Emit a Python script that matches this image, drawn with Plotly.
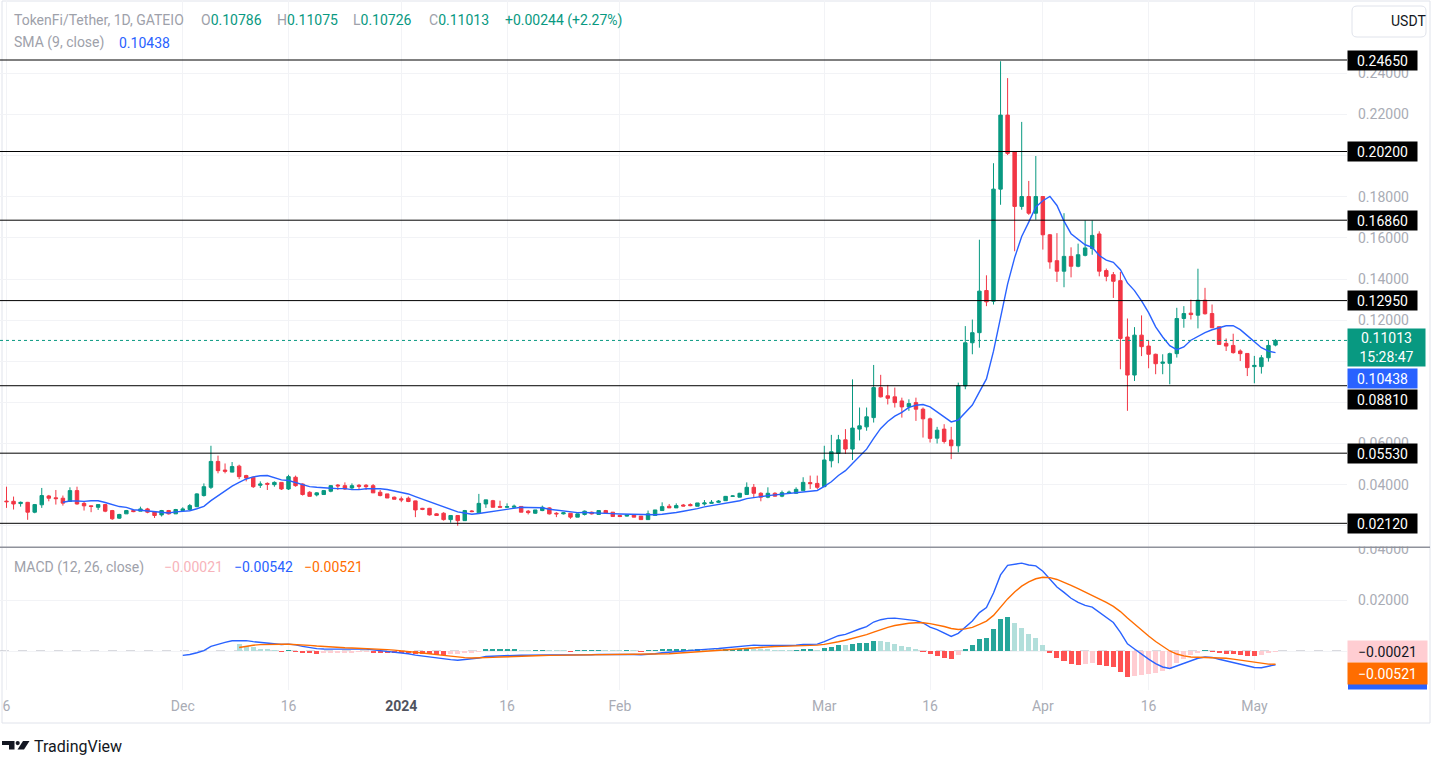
import numpy as np
import pandas as pd
import plotly.graph_objects as go

W, H = 1435, 757

# ---------------- data ----------------
start_date = "2023-11-06"

opens = [0.0320, 0.0319, 0.0308, 0.0314, 0.0266, 0.0302, 0.0345, 0.0336, 0.0334, 0.0318,
         0.0371, 0.0309, 0.0297, 0.0290, 0.0303, 0.0274, 0.0237, 0.0258, 0.0274, 0.0271,
         0.0282, 0.0267, 0.0253, 0.0274, 0.0258, 0.0274, 0.0279, 0.0293, 0.0347, 0.0387,
         0.0513, 0.0471, 0.0461, 0.0490, 0.0444, 0.0436, 0.0397, 0.0406, 0.0400, 0.0411,
         0.0379, 0.0436, 0.0403, 0.0363, 0.0350, 0.0352, 0.0368, 0.0398, 0.0395, 0.0384,
         0.0397, 0.0397, 0.0395, 0.0363, 0.0355, 0.0339, 0.0331, 0.0334, 0.0321, 0.0285,
         0.0285, 0.0258, 0.0261, 0.0230, 0.0250, 0.0225, 0.0272, 0.0263, 0.0306, 0.0322,
         0.0294, 0.0290, 0.0290, 0.0294, 0.0271, 0.0261, 0.0274, 0.0287, 0.0261, 0.0258,
         0.0261, 0.0242, 0.0255, 0.0266, 0.0255, 0.0274, 0.0266, 0.0250, 0.0247, 0.0253,
         0.0247, 0.0230, 0.0250, 0.0274, 0.0295, 0.0287, 0.0301, 0.0303, 0.0295, 0.0306,
         0.0309, 0.0314, 0.0322, 0.0343, 0.0339, 0.0352, 0.0387, 0.0358, 0.0339, 0.0358,
         0.0344, 0.0358, 0.0358, 0.0371, 0.0410, 0.0406, 0.0390, 0.0516, 0.0552, 0.0618,
         0.0573, 0.0670, 0.0681, 0.0726, 0.0872, 0.0832, 0.0827, 0.0807, 0.0778, 0.0799,
         0.0767, 0.0720, 0.0626, 0.0670, 0.0617, 0.0589, 0.0880, 0.1090, 0.1139, 0.1344,
         0.1292, 0.1837, 0.2197, 0.2019, 0.1753, 0.1801, 0.1720, 0.1801, 0.1615, 0.1489,
         0.1438, 0.1510, 0.1462, 0.1515, 0.1548, 0.1619, 0.1441, 0.1421, 0.1392, 0.1118,
         0.0933, 0.1127, 0.1074, 0.1034, 0.0990, 0.0990, 0.1037, 0.1208, 0.1234, 0.1224,
         0.1297, 0.1232, 0.1168, 0.1087, 0.1077, 0.1050, 0.1038, 0.0974, 0.0974, 0.1017,
         0.10786]
highs = [0.0390, 0.0342, 0.0318, 0.0316, 0.0306, 0.0384, 0.0350, 0.0374, 0.0347, 0.0387,
         0.0390, 0.0319, 0.0298, 0.0303, 0.0306, 0.0277, 0.0258, 0.0277, 0.0279, 0.0293,
         0.0287, 0.0267, 0.0277, 0.0277, 0.0282, 0.0290, 0.0306, 0.0358, 0.0406, 0.0589,
         0.0541, 0.0503, 0.0510, 0.0497, 0.0448, 0.0439, 0.0416, 0.0411, 0.0416, 0.0411,
         0.0448, 0.0444, 0.0406, 0.0368, 0.0363, 0.0374, 0.0398, 0.0403, 0.0411, 0.0406,
         0.0403, 0.0403, 0.0403, 0.0374, 0.0355, 0.0342, 0.0342, 0.0342, 0.0322, 0.0287,
         0.0287, 0.0261, 0.0266, 0.0250, 0.0250, 0.0277, 0.0276, 0.0355, 0.0326, 0.0326,
         0.0322, 0.0309, 0.0303, 0.0294, 0.0277, 0.0277, 0.0298, 0.0290, 0.0266, 0.0266,
         0.0261, 0.0258, 0.0274, 0.0269, 0.0274, 0.0277, 0.0266, 0.0253, 0.0253, 0.0253,
         0.0247, 0.0274, 0.0277, 0.0314, 0.0306, 0.0309, 0.0306, 0.0309, 0.0311, 0.0325,
         0.0325, 0.0325, 0.0345, 0.0348, 0.0360, 0.0411, 0.0403, 0.0363, 0.0387, 0.0363,
         0.0371, 0.0371, 0.0387, 0.0436, 0.0444, 0.0444, 0.0589, 0.0642, 0.0642, 0.0670,
         0.0912, 0.0775, 0.0775, 0.0982, 0.0934, 0.0885, 0.0872, 0.0823, 0.0815, 0.0823,
         0.0775, 0.0726, 0.0681, 0.0694, 0.0681, 0.0896, 0.1171, 0.1203, 0.1591, 0.1418,
         0.1963, 0.2459, 0.2377, 0.2019, 0.2164, 0.1877, 0.1998, 0.1801, 0.1619, 0.1623,
         0.1720, 0.1554, 0.1572, 0.1685, 0.1685, 0.1632, 0.1451, 0.1434, 0.1434, 0.1208,
         0.1166, 0.1223, 0.1101, 0.1037, 0.1034, 0.1042, 0.1260, 0.1268, 0.1300, 0.1450,
         0.1357, 0.1276, 0.1168, 0.1111, 0.1134, 0.1058, 0.1038, 0.1026, 0.1030, 0.1101,
         0.11075]
lows = [0.0287, 0.0279, 0.0293, 0.0229, 0.0261, 0.0287, 0.0319, 0.0303, 0.0298, 0.0316,
        0.0303, 0.0274, 0.0266, 0.0277, 0.0266, 0.0229, 0.0234, 0.0258, 0.0266, 0.0271,
        0.0261, 0.0238, 0.0245, 0.0255, 0.0258, 0.0271, 0.0274, 0.0290, 0.0342, 0.0379,
        0.0455, 0.0455, 0.0460, 0.0427, 0.0416, 0.0384, 0.0384, 0.0374, 0.0390, 0.0374,
        0.0374, 0.0390, 0.0347, 0.0343, 0.0343, 0.0352, 0.0363, 0.0374, 0.0374, 0.0379,
        0.0374, 0.0374, 0.0360, 0.0343, 0.0335, 0.0329, 0.0315, 0.0315, 0.0242, 0.0276,
        0.0250, 0.0250, 0.0225, 0.0215, 0.0200, 0.0225, 0.0266, 0.0263, 0.0287, 0.0290,
        0.0290, 0.0287, 0.0290, 0.0266, 0.0255, 0.0258, 0.0271, 0.0255, 0.0242, 0.0255,
        0.0234, 0.0242, 0.0250, 0.0255, 0.0255, 0.0258, 0.0245, 0.0242, 0.0245, 0.0242,
        0.0230, 0.0230, 0.0250, 0.0274, 0.0287, 0.0287, 0.0295, 0.0295, 0.0295, 0.0298,
        0.0309, 0.0311, 0.0322, 0.0340, 0.0339, 0.0352, 0.0339, 0.0319, 0.0334, 0.0342,
        0.0339, 0.0355, 0.0355, 0.0371, 0.0379, 0.0379, 0.0390, 0.0484, 0.0504, 0.0549,
        0.0520, 0.0615, 0.0662, 0.0702, 0.0824, 0.0790, 0.0775, 0.0726, 0.0759, 0.0710,
        0.0629, 0.0605, 0.0600, 0.0600, 0.0524, 0.0557, 0.0864, 0.1034, 0.1066, 0.1268,
        0.1276, 0.1761, 0.2003, 0.1535, 0.1737, 0.1712, 0.1688, 0.1543, 0.1450, 0.1386,
        0.1360, 0.1408, 0.1457, 0.1510, 0.1518, 0.1413, 0.1389, 0.1308, 0.0961, 0.0759,
        0.0904, 0.1025, 0.0966, 0.0937, 0.0937, 0.0888, 0.1018, 0.1163, 0.1203, 0.1160,
        0.1227, 0.1163, 0.1082, 0.1050, 0.1037, 0.1001, 0.0928, 0.0893, 0.0940, 0.0998,
        0.10726]
closes = [0.0317, 0.0306, 0.0314, 0.0266, 0.0303, 0.0347, 0.0334, 0.0332, 0.0310, 0.0371,
          0.0306, 0.0297, 0.0294, 0.0303, 0.0271, 0.0234, 0.0255, 0.0274, 0.0269, 0.0282,
          0.0266, 0.0250, 0.0274, 0.0258, 0.0279, 0.0282, 0.0298, 0.0355, 0.0390, 0.0513,
          0.0468, 0.0465, 0.0488, 0.0439, 0.0432, 0.0390, 0.0403, 0.0402, 0.0411, 0.0379,
          0.0439, 0.0395, 0.0352, 0.0343, 0.0360, 0.0371, 0.0395, 0.0394, 0.0379, 0.0395,
          0.0392, 0.0390, 0.0360, 0.0347, 0.0335, 0.0329, 0.0326, 0.0318, 0.0277, 0.0280,
          0.0253, 0.0250, 0.0230, 0.0250, 0.0225, 0.0274, 0.0269, 0.0309, 0.0326, 0.0290,
          0.0290, 0.0293, 0.0295, 0.0266, 0.0264, 0.0277, 0.0290, 0.0258, 0.0258, 0.0263,
          0.0242, 0.0258, 0.0271, 0.0258, 0.0274, 0.0261, 0.0245, 0.0245, 0.0253, 0.0242,
          0.0230, 0.0258, 0.0277, 0.0293, 0.0287, 0.0298, 0.0296, 0.0298, 0.0311, 0.0311,
          0.0314, 0.0320, 0.0343, 0.0345, 0.0358, 0.0387, 0.0358, 0.0339, 0.0358, 0.0344,
          0.0361, 0.0363, 0.0377, 0.0411, 0.0405, 0.0387, 0.0520, 0.0560, 0.0618, 0.0573,
          0.0675, 0.0686, 0.0730, 0.0872, 0.0827, 0.0820, 0.0799, 0.0778, 0.0794, 0.0767,
          0.0720, 0.0625, 0.0665, 0.0610, 0.0589, 0.0880, 0.1090, 0.1139, 0.1341, 0.1289,
          0.1837, 0.2197, 0.2011, 0.1753, 0.1801, 0.1720, 0.1801, 0.1615, 0.1483, 0.1438,
          0.1510, 0.1462, 0.1518, 0.1551, 0.1612, 0.1438, 0.1413, 0.1389, 0.1111, 0.0933,
          0.1127, 0.1071, 0.1034, 0.0988, 0.0996, 0.1037, 0.1208, 0.1232, 0.1227, 0.1297,
          0.1231, 0.1163, 0.1082, 0.1074, 0.1042, 0.1037, 0.0969, 0.0980, 0.1017, 0.10769,
          0.11013]

levels = [0.24650, 0.20200, 0.16860, 0.12950, 0.08810, 0.05530, 0.02120]
price_ticks = [0.02, 0.04, 0.06, 0.08, 0.10, 0.12, 0.14, 0.16, 0.18, 0.20, 0.22, 0.24]
hidden_price_ticks = [0.02, 0.08, 0.10, 0.20]   # covered by the level / price boxes
macd_ticks = [0.0, 0.02, 0.04]
hidden_macd_ticks = [0.0]
time_tick_dates = ["2023-11-06", "2023-12-01", "2023-12-16", "2024-01-01", "2024-01-16",
                   "2024-02-01", "2024-03-01", "2024-03-16", "2024-04-01", "2024-04-16",
                   "2024-05-01"]
time_tick_text = ["6", "Dec", "16", "2024", "16", "Feb", "Mar", "16", "Apr", "16", "May"]

last_change = 0.00244
last_change_pct = 2.27
countdown = "15:28:47"
sma_last = 0.10438
macd_hist_last = -0.00021
macd_line_last = -0.00542
macd_signal_last = -0.00521

# ---------------- indicators ----------------
dates = pd.date_range(start_date, periods=len(closes), freq="D")
c = np.array(closes, dtype=float)


def ema_tv(src, n):
    src = np.asarray(src, dtype=float)
    out = np.full(src.shape, np.nan)
    idx = np.where(~np.isnan(src))[0]
    first = idx[0]
    s = first + n - 1
    out[s] = src[first:s + 1].mean()
    a = 2.0 / (n + 1)
    for k in range(s + 1, len(src)):
        out[k] = a * src[k] + (1 - a) * out[k - 1]
    return out


sma9 = pd.Series(c).rolling(9).mean().to_numpy()
macd = ema_tv(c, 12) - ema_tv(c, 26)
signal = ema_tv(macd, 9)
hist = macd - signal

hist_colors = []
for k in range(len(hist)):
    h = hist[k]
    prev = hist[k - 1] if k > 0 else np.nan
    if np.isnan(h):
        hist_colors.append("rgba(0,0,0,0)")
        continue
    rising = (not np.isnan(prev)) and prev < h
    if h >= 0:
        hist_colors.append("#26A69A" if rising else "#B2DFDB")
    else:
        hist_colors.append("#FFCDD2" if rising else "#FF5252")

# ---------------- geometry (pixels -> paper) ----------------
def X(px):
    return px / W


def Y(py):
    return 1 - py / H


PLOT_R = 1347
x0_day = (0 - 6.5) / 7.05
x1_day = (PLOT_R - 6.5) / 7.05
t0 = pd.Timestamp(start_date)
xr = [(t0 + pd.Timedelta(days=x0_day)).strftime("%Y-%m-%d %H:%M:%S"),
      (t0 + pd.Timedelta(days=x1_day)).strftime("%Y-%m-%d %H:%M:%S")]


def price_at(py):
    return 0.2465 + (60 - py) / 2056.4


def macd_at(py):
    return (651 - py) / 2550.0


PRICE_BOTTOM = 547
MACD_TOP, MACD_BOTTOM = 548, 690

UP, DOWN = "#089981", "#F23645"
GRID = "#f2f3f6"
AXT = "#a9acb5"
FONT = "Roboto"


def fmt_ticks(vals, hidden):
    return [("" if any(abs(v - h) < 1e-9 for h in hidden) else f"{v:.5f}") for v in vals]


fig = go.Figure()
fig.add_trace(go.Candlestick(
    x=dates, open=opens, high=highs, low=lows, close=closes,
    increasing=dict(line=dict(color=UP, width=1), fillcolor=UP),
    decreasing=dict(line=dict(color=DOWN, width=1), fillcolor=DOWN),
    whiskerwidth=0, xaxis="x", yaxis="y", hoverinfo="skip"))
fig.add_trace(go.Scatter(x=dates, y=sma9, mode="lines",
                         line=dict(color="#2962FF", width=1.4),
                         xaxis="x", yaxis="y", hoverinfo="skip"))
fig.add_trace(go.Bar(x=dates, y=hist, marker=dict(color=hist_colors, line=dict(width=0)),
                     width=0.72 * 86400000, xaxis="x2", yaxis="y2", hoverinfo="skip"))
fig.add_trace(go.Scatter(x=dates, y=macd, mode="lines", line=dict(color="#2962FF", width=1.4),
                         xaxis="x2", yaxis="y2", hoverinfo="skip"))
fig.add_trace(go.Scatter(x=dates, y=signal, mode="lines", line=dict(color="#FF6D00", width=1.4),
                         xaxis="x2", yaxis="y2", hoverinfo="skip"))

shapes = []
shapes.append(dict(type="rect", xref="paper", yref="paper", x0=X(2), x1=X(1430), y0=Y(723), y1=Y(1),
                   line=dict(color="#e0e3eb", width=1), fillcolor="rgba(0,0,0,0)", layer="below"))
for lv in levels:
    shapes.append(dict(type="line", xref="paper", yref="y", x0=0, x1=X(PLOT_R), y0=lv, y1=lv,
                       line=dict(color="#000000", width=1), layer="above"))
shapes.append(dict(type="line", xref="paper", yref="y", x0=0, x1=X(PLOT_R), y0=closes[-1], y1=closes[-1],
                   line=dict(color=UP, width=1, dash="dot"), layer="above"))
shapes.append(dict(type="line", xref="paper", yref="y2", x0=0, x1=X(PLOT_R), y0=0, y1=0,
                   line=dict(color="#b2b5be", width=1, dash="dash"), layer="below"))
shapes.append(dict(type="rect", xref="paper", yref="paper", x0=X(PLOT_R + 1), x1=X(1429), y0=Y(546.5), y1=Y(537),
                   line=dict(width=0), fillcolor="white", layer="above"))
shapes.append(dict(type="line", xref="paper", yref="paper", x0=0, x1=X(1430), y0=Y(547.3), y1=Y(547.3),
                   line=dict(color="#8f929b", width=1.5), layer="above"))
shapes.append(dict(type="rect", xref="paper", yref="paper", x0=X(1348), x1=X(1427), y0=Y(689.5), y1=Y(683.5),
                   line=dict(width=0), fillcolor="#2962FF", layer="above"))


def rrect(x0, y0, x1, y1, r):
    return (f"M {X(x0 + r)},{Y(y0)} L {X(x1 - r)},{Y(y0)} Q {X(x1)},{Y(y0)} {X(x1)},{Y(y0 + r)} "
            f"L {X(x1)},{Y(y1 - r)} Q {X(x1)},{Y(y1)} {X(x1 - r)},{Y(y1)} L {X(x0 + r)},{Y(y1)} "
            f"Q {X(x0)},{Y(y1)} {X(x0)},{Y(y1 - r)} L {X(x0)},{Y(y0 + r)} Q {X(x0)},{Y(y0)} {X(x0 + r)},{Y(y0)} Z")


shapes.append(dict(type="path", xref="paper", yref="paper", path=rrect(1352, 6, 1426, 37, 5),
                   line=dict(color="#e0e3eb", width=1), fillcolor="white", layer="above"))


def poly(pts):
    return "M " + " L ".join(f"{X(a)},{Y(b)}" for a, b in pts) + " Z"


shapes.append(dict(type="path", xref="paper", yref="paper",
                   path=poly([(2, 741), (14.5, 741), (14.5, 749.5), (9, 749.5), (9, 745), (2, 745)]),
                   line=dict(width=0), fillcolor="#131722", layer="above"))
shapes.append(dict(type="circle", xref="paper", yref="paper", x0=X(15.6), x1=X(19.8), y0=Y(745.2), y1=Y(741),
                   line=dict(width=0), fillcolor="#131722", layer="above"))
shapes.append(dict(type="path", xref="paper", yref="paper",
                   path=poly([(23, 741), (29.5, 741), (24, 749.5), (17.5, 749.5)]),
                   line=dict(width=0), fillcolor="#131722", layer="above"))

ann = []


def txt(x, y, text, color, size=14, xanchor="left", yanchor="middle"):
    ann.append(dict(x=X(x), y=Y(y), xref="paper", yref="paper", text=text, showarrow=False,
                    xanchor=xanchor, yanchor=yanchor, font=dict(family=FONT, size=size, color=color)))


LEG = "#9ea1aa"
txt(12, 20, "TokenFi/Tether, 1D, GATEIO", LEG)
ohlc_x = [199, 275, 351, 427]
for xx, lab, val in zip(ohlc_x, ["O", "H", "L", "C"], [opens[-1], highs[-1], lows[-1], closes[-1]]):
    txt(xx, 20, f"<span style='color:{LEG}'>{lab}</span>{val:.5f}", UP)
txt(503, 20, f"+{last_change:.5f} (+{last_change_pct:.2f}%)", UP)
txt(12, 43, "SMA (9, close)", LEG)
txt(117, 43, f"{sma_last:.5f}", "#2962FF")
txt(12, 567, "MACD (12, 26, close)", LEG)
txt(162, 567, f"\u2212{abs(macd_hist_last):.5f}", "#f7b3ba")
txt(232, 567, f"\u2212{abs(macd_line_last):.5f}", "#2962FF")
txt(302, 567, f"\u2212{abs(macd_signal_last):.5f}", "#FF6D00")
txt(1389, 21, "USDT", "#131722")
txt(32, 746, "TradingView", "#131722", size=16)


def label(y, yref, text, bg, fg="white", w=67, h=17, yshift=0):
    ann.append(dict(x=X(1347), xref="paper", xanchor="left", y=y, yref=yref, yanchor="middle",
                    text=text, showarrow=False, bgcolor=bg, width=w, height=h, borderpad=1,
                    align="center", yshift=yshift, font=dict(family=FONT, size=14, color=fg)))


for lv in levels:
    label(lv, "y", f"{lv:.5f}", "#000000", yshift=(-14 if abs(lv - 0.0881) < 1e-6 else 0))
label(closes[-1], "y", f"{closes[-1]:.5f}<br>{countdown}", UP, w=75, h=35, yshift=-7)
label(sma_last, "y", f"{sma_last:.5f}", "#2962FF", yshift=-26)
label(macd_hist_last, "y2", f"\u2212{abs(macd_hist_last):.5f}", "#FFCDD2", fg="#131722", w=77, h=19)
label(macd_signal_last, "y2", f"\u2212{abs(macd_signal_last):.5f}", "#FF6D00", w=77, h=19, yshift=-9)

tt = [("<b><span style='color:#50535e'>2024</span></b>" if t == "2024" else t) for t in time_tick_text]

fig.update_layout(
    width=W, height=H, autosize=False,
    margin=dict(l=0, r=0, t=0, b=0, pad=0, autoexpand=False),
    paper_bgcolor="white", plot_bgcolor="white", showlegend=False, hovermode=False,
    font=dict(family=FONT, size=13, color=AXT),
    bargap=0,
    xaxis=dict(domain=[0, X(PLOT_R)], anchor="y", range=xr, type="date", automargin=False,
               tickvals=time_tick_dates, showticklabels=False, showgrid=True, gridcolor=GRID,
               zeroline=False, showline=False, ticks="", rangeslider=dict(visible=False)),
    yaxis=dict(domain=[Y(PRICE_BOTTOM), 1], anchor="x", side="right", automargin=False,
               range=[price_at(PRICE_BOTTOM), price_at(0)],
               tickvals=price_ticks, ticktext=fmt_ticks(price_ticks, hidden_price_ticks),
               tickfont=dict(family=FONT, size=14, color=AXT), ticks="", ticklabelstandoff=10,
               showgrid=True, gridcolor=GRID, zeroline=False, showline=False),
    xaxis2=dict(domain=[0, X(PLOT_R)], anchor="y2", matches="x", range=xr, type="date", automargin=False,
                tickvals=time_tick_dates, ticktext=tt, tickfont=dict(family=FONT, size=14, color=AXT),
                showgrid=True, gridcolor=GRID, zeroline=False, showline=False, ticks="",
                ticklabelstandoff=6),
    yaxis2=dict(domain=[Y(MACD_BOTTOM), Y(MACD_TOP)], anchor="x2", side="right", automargin=False,
                range=[macd_at(MACD_BOTTOM), macd_at(MACD_TOP)],
                tickvals=macd_ticks, ticktext=fmt_ticks(macd_ticks, hidden_macd_ticks),
                tickfont=dict(family=FONT, size=14, color=AXT), ticks="", ticklabelstandoff=10,
                showgrid=True, gridcolor=GRID, zeroline=False, showline=False),
    shapes=shapes, annotations=ann,
)

fig.write_html("out.html")
